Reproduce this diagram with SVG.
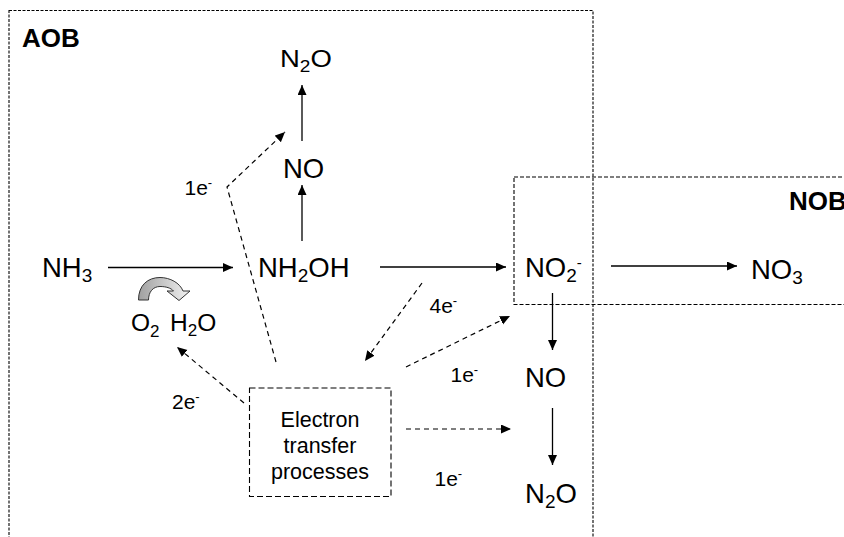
<svg xmlns="http://www.w3.org/2000/svg" width="844" height="537" viewBox="0 0 844 537">
<defs>
<style>
text{font-family:"Liberation Sans",Arial,sans-serif;fill:#000}
.chem{font-size:27.5px}
.lbl{font-size:21px}
.et{font-size:21.5px;text-anchor:middle}
.title{font-size:26px;font-weight:bold}
.box{fill:none;stroke:#000;stroke-width:1.1}
.solid{fill:none;stroke:#000;stroke-width:1.3;marker-end:url(#ah)}
.dash{fill:none;stroke:#000;stroke-width:1.2;stroke-dasharray:5 4;marker-end:url(#ah)}
</style>
<marker id="ah" markerUnits="userSpaceOnUse" markerWidth="11" markerHeight="10" refX="10" refY="4.5" orient="auto">
<path d="M0,0 L10,4.5 L0,9 Z" fill="#000"/>
</marker>
<linearGradient id="gg" x1="0" y1="0" x2="1" y2="0">
<stop offset="0" stop-color="#a0a0a0"/>
<stop offset="1" stop-color="#f2f2f2"/>
</linearGradient>
</defs>
<rect width="844" height="537" fill="#fff"/>

<g id="AOB">
<rect class="box" x="9" y="10.5" width="584" height="540" stroke-dasharray="3 1.5"/>
<text class="title" x="22" y="47">AOB</text>
</g>
<g id="NOB">
<rect class="box" x="514" y="177" width="340" height="127.5" stroke-dasharray="4 2"/>
<text class="title" x="789" y="209.5">NOB</text>
</g>

<g id="connectors">
<line class="solid" x1="108" y1="267.5" x2="233" y2="267.5"/>
<line class="solid" x1="380" y1="267" x2="506" y2="267"/>
<line class="solid" x1="611" y1="266" x2="737" y2="266"/>
<line class="solid" x1="302" y1="241" x2="302" y2="185"/>
<line class="solid" x1="302" y1="141" x2="302" y2="85"/>
<line class="solid" x1="552.5" y1="293" x2="552.5" y2="350"/>
<line class="solid" x1="552.5" y1="408" x2="552.5" y2="465"/>
<polyline class="dash" points="276,362 227,187 285,132"/>
<line class="dash" x1="422" y1="283" x2="365" y2="361"/>
<line class="dash" x1="406" y1="367" x2="510" y2="316"/>
<line class="dash" x1="406" y1="429" x2="511" y2="429"/>
<line class="dash" x1="244" y1="403" x2="177" y2="347"/>
<path d="M138.5,300 C138.5,285 148,277.5 160,277.5 C170,277.5 180,283 183,291 L190,291 L179,300.5 L167,291 L173.5,291 C171,288 166,286.5 160,286.5 C153,286.5 148.5,292 148.5,300 Z" fill="url(#gg)" stroke="#333" stroke-width="1"/>
</g>

<g id="NH3"><text class="chem" x="42" y="277">NH<tspan font-size="19" dy="5">3</tspan></text></g>
<g id="NH2OH"><text class="chem" x="258" y="277">NH<tspan font-size="19" dy="5">2</tspan><tspan dy="-5">OH</tspan></text></g>
<g id="NO2"><text class="chem" x="525" y="277">NO<tspan font-size="19" dy="5">2</tspan><tspan font-size="15" dy="-14">-</tspan></text></g>
<g id="NO3"><text class="chem" x="751" y="279">NO<tspan font-size="19" dy="5">3</tspan></text></g>
<g id="NO_top"><text class="chem" x="283" y="178">NO</text></g>
<g id="N2O_top"><text class="chem" transform="translate(280,67) scale(1,0.88)">N<tspan font-size="19" dy="6">2</tspan><tspan dy="-6">O</tspan></text></g>
<g id="NO_mid"><text class="chem" x="525" y="387">NO</text></g>
<g id="N2O_bot"><text class="chem" x="525" y="503">N<tspan font-size="19" dy="5">2</tspan><tspan dy="-5">O</tspan></text></g>
<g id="O2H2O">
<text style="font-size:24.5px" x="131" y="331">O<tspan font-size="17" dy="6">2</tspan></text>
<text style="font-size:24.5px" x="170" y="331">H<tspan font-size="17" dy="5">2</tspan><tspan dy="-5">O</tspan></text>
</g>
<g id="ETP">
<rect class="box" x="249.5" y="388" width="141.5" height="108.5" stroke-dasharray="6 3"/>
<text class="et" x="320" y="427">Electron</text>
<text class="et" x="320" y="453">transfer</text>
<text class="et" x="320" y="478.5">processes</text>
</g>
<g id="labels">
<text class="lbl" x="184.5" y="195">1e<tspan font-size="13" dy="-8">-</tspan></text>
<text class="lbl" x="429.5" y="313">4e<tspan font-size="13" dy="-8">-</tspan></text>
<text class="lbl" x="450.5" y="382">1e<tspan font-size="13" dy="-8">-</tspan></text>
<text class="lbl" x="434.5" y="486">1e<tspan font-size="13" dy="-8">-</tspan></text>
<text class="lbl" x="172" y="409">2e<tspan font-size="13" dy="-8">-</tspan></text>
</g>
</svg>
